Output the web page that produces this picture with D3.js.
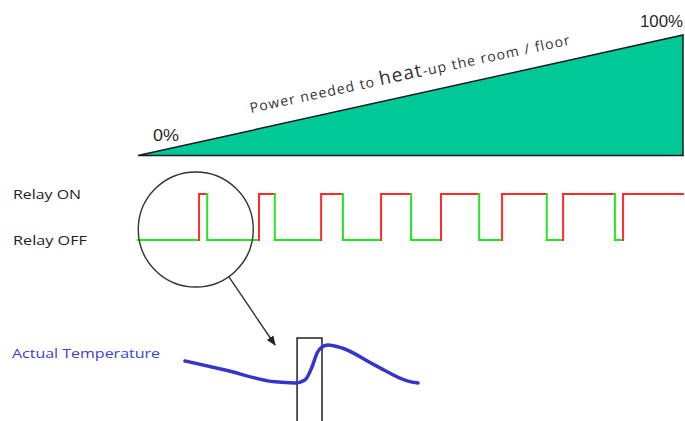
<!DOCTYPE html>
<html><head><meta charset="utf-8">
<script src="https://cdn.jsdelivr.net/npm/d3@7"></script>
<style>html,body{margin:0;padding:0;background:#fff;}svg{display:block;}</style>
</head><body>
<svg id="chart" width="685" height="421"></svg>
<script>
// ---- data ----
const timeDomain = [0, 100];
const powerTimes = [0, 100];
const powerPct = [0, 100];
const powerLabels = ["0%", "100%"];
const powerTitleParts = ["Power needed to ", "heat", "-up the room / floor"];
const relayLabels = ["Relay ON", "Relay OFF"];
const relayStart = 0; // OFF
const relaySwitchTimes = [11.2, 12.7, 22.2, 25.1, 33.6, 37.6, 44.6, 50.1, 55.6, 62.6, 66.8, 75.0, 78.0, 87.5, 89.0];
const tempLabel = "Actual Temperature";
const tempTimes = [0, 17.2, 38.6, 47.2, 51.5, 54.5, 56.7, 58.8, 61.4, 67.4, 81.5, 95.7, 100];
const tempValues = [20.58, 20.34, 20.03, 20.0, 20.08, 20.42, 20.79, 20.95, 21.0, 20.92, 20.47, 20.05, 20.0];
const pulseWindow = [48.1, 58.8];
const zoomCircle = {t: 10.6};

// ---- scales ----
const svg = d3.select("#chart");
const x = d3.scaleLinear().domain(timeDomain).range([138, 683]);
const yPower = d3.scaleLinear().domain([0, 100]).range([155.5, 35]);
const yRelay = d3.scaleLinear().domain([0, 1]).range([240, 194]);
const xTemp = d3.scaleLinear().domain([0, 100]).range([185, 418]);
const yTemp = d3.scaleLinear().domain([20, 21]).range([383, 345]);

// ---- power triangle ----
const area = d3.area().x((d, i) => x(powerTimes[i])).y0(yPower(0)).y1(d => yPower(d));
svg.append("path").datum(powerPct).attr("d", area)
  .attr("fill", "#00c897").attr("stroke", "#1a1a1a").attr("stroke-width", 1.5).attr("stroke-linejoin", "miter");

svg.append("text").attr("x", x(0) + 15).attr("y", yPower(0) - 15)
  .attr("font-family", "Liberation Sans, Arial, sans-serif").attr("font-size", 16).attr("fill", "#2a2a2a")
  .attr("textLength", 26).attr("lengthAdjust", "spacingAndGlyphs")
  .text(powerLabels[0]);
svg.append("text").attr("x", x(100) - 43).attr("y", yPower(100) - 8)
  .attr("font-family", "Liberation Sans, Arial, sans-serif").attr("font-size", 16).attr("fill", "#2a2a2a")
  .attr("textLength", 43).attr("lengthAdjust", "spacingAndGlyphs")
  .text(powerLabels[1]);

const angle = Math.atan2(yPower(0) - yPower(100), x(100) - x(0)) * 180 / Math.PI * 0.97;
const tt = svg.append("text")
  .attr("transform", `translate(251,113) rotate(${-angle})`)
  .attr("font-family", "Open Sans, sans-serif").attr("fill", "#333")
  .attr("letter-spacing", 1.1);
powerTitleParts.forEach((p, i) => {
  tt.append("tspan").attr("font-size", i === 1 ? 19 : 14).text(p);
});

// ---- relay signal ----
const labelFont = "Open Sans, sans-serif";
svg.append("text").attr("x", 13).attr("y", yRelay(1) + 5).attr("font-family", labelFont)
  .attr("font-size", 12.5).attr("fill", "#222").attr("textLength", 68).attr("lengthAdjust", "spacingAndGlyphs").text(relayLabels[0]);
svg.append("text").attr("x", 13).attr("y", yRelay(0) + 5).attr("font-family", labelFont)
  .attr("font-size", 12.5).attr("fill", "#222").attr("textLength", 74).attr("lengthAdjust", "spacingAndGlyphs").text(relayLabels[1]);

const segs = [];
let state = relayStart, t0 = timeDomain[0];
relaySwitchTimes.forEach(t => {
  segs.push({pts: [[t0, state], [t, state]], s: state});
  const ns = 1 - state;
  segs.push({pts: [[t, state], [t, ns]], s: ns});
  state = ns; t0 = t;
});
segs.push({pts: [[t0, state], [timeDomain[1], state]], s: state});
const line = d3.line().x(d => x(d[0])).y(d => yRelay(d[1]));
svg.append("g").selectAll("path").data(segs).join("path")
  .attr("d", d => line(d.pts)).attr("fill", "none")
  .attr("stroke", d => d.s ? "#ff2b2b" : "#22e622").attr("stroke-width", 2)
  .attr("stroke-linecap", "square");

// ---- zoom circle + arrow ----
const cx = x(zoomCircle.t), cy = (yRelay(0) + yRelay(1)) / 2 + 12.5;
const r = 57.5;
svg.append("circle").attr("cx", cx).attr("cy", cy).attr("r", r)
  .attr("fill", "none").attr("stroke", "#333").attr("stroke-width", 1.4);

svg.append("defs").append("marker").attr("id", "ah").attr("viewBox", "0 0 10 10")
  .attr("refX", 9).attr("refY", 5).attr("markerWidth", 7).attr("markerHeight", 7).attr("orient", "auto")
  .append("path").attr("d", "M0,1 L10,5 L0,9 z").attr("fill", "#222");
const a = 55 * Math.PI / 180;
svg.append("line").attr("x1", cx + r * Math.cos(a)).attr("y1", cy + r * Math.sin(a))
  .attr("x2", xTemp(pulseWindow[0]) - 22).attr("y2", yTemp(21))
  .attr("stroke", "#333").attr("stroke-width", 1.4).attr("marker-end", "url(#ah)");

// ---- temperature ----
svg.append("text").attr("x", 12).attr("y", 358).attr("font-family", labelFont)
  .attr("font-size", 13.5).attr("fill", "#3d3dd6").attr("textLength", 148).attr("lengthAdjust", "spacingAndGlyphs").text(tempLabel);

svg.append("rect").attr("x", xTemp(pulseWindow[0])).attr("y", 338)
  .attr("width", xTemp(pulseWindow[1]) - xTemp(pulseWindow[0])).attr("height", 100)
  .attr("fill", "none").attr("stroke", "#111").attr("stroke-width", 1.4);

const tline = d3.line().x((d, i) => xTemp(tempTimes[i])).y(d => yTemp(d)).curve(d3.curveMonotoneX);
svg.append("path").datum(tempValues).attr("d", tline).attr("fill", "none")
  .attr("stroke", "#3535cc").attr("stroke-width", 3.5).attr("stroke-linecap", "round");
</script>
</body></html>
